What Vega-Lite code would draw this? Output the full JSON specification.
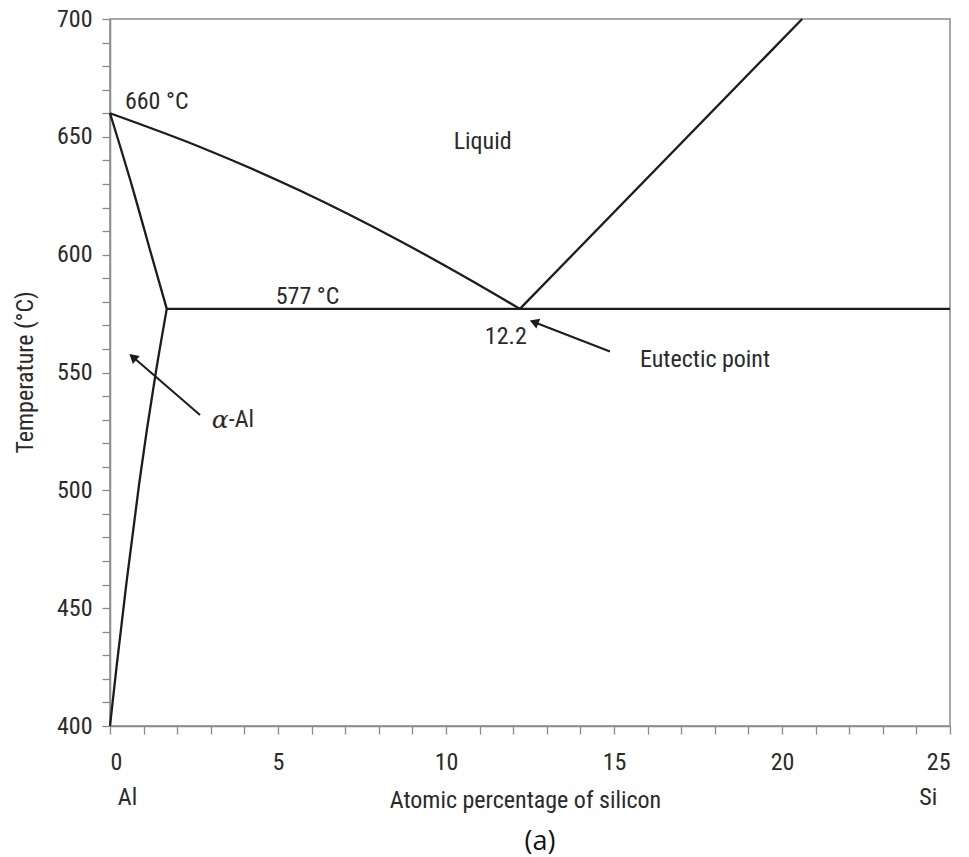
{
  "$schema": "https://vega.github.io/schema/vega-lite/v6.json",
  "autosize": {"type": "none"},
  "padding": {"left": 110, "top": 19, "right": 19, "bottom": 131},
  "width": 840,
  "height": 707,
  "background": "white",
  "config": {
    "view": {"stroke": "#8a8a8a", "strokeWidth": 1.5},
    "font": "Roboto Condensed, Roboto, sans-serif",
    "axis": {
      "domainColor": "#8a8a8a",
      "domainWidth": 1.5,
      "tickColor": "#8a8a8a",
      "tickWidth": 1.3,
      "tickSize": 8,
      "grid": false,
      "labelOverlap": false,
      "labelFont": "Roboto Condensed, Roboto, sans-serif",
      "labelFontSize": 24,
      "labelColor": "#2a2a2a",
      "titleFont": "Roboto Condensed, Roboto, sans-serif",
      "titleFontSize": 24,
      "titleFontWeight": "normal",
      "titleColor": "#2a2a2a"
    }
  },
  "datasets": {
    "curves": [
      {"series": "liquidus_al", "x": 0, "t": 660},
      {"series": "liquidus_al", "x": 2.68, "t": 645.7},
      {"series": "liquidus_al", "x": 5.65, "t": 627.2},
      {"series": "liquidus_al", "x": 8.63, "t": 605.8},
      {"series": "liquidus_al", "x": 10.62, "t": 590.1},
      {"series": "liquidus_al", "x": 12.2, "t": 577},
      {"series": "liquidus_si", "x": 12.2, "t": 577},
      {"series": "liquidus_si", "x": 20.6, "t": 700},
      {"series": "solidus", "x": 0, "t": 660},
      {"series": "solidus", "x": 0.69, "t": 627.4},
      {"series": "solidus", "x": 1.19, "t": 602},
      {"series": "solidus", "x": 1.69, "t": 577},
      {"series": "solvus", "x": 0, "t": 400},
      {"series": "solvus", "x": 0.196, "t": 425.2},
      {"series": "solvus", "x": 0.489, "t": 460.6},
      {"series": "solvus", "x": 0.87, "t": 503},
      {"series": "solvus", "x": 1.36, "t": 549.7},
      {"series": "solvus", "x": 1.69, "t": 577},
      {"series": "eutectic", "x": 1.69, "t": 577},
      {"series": "eutectic", "x": 25, "t": 577}
    ],
    "arrows": [
      {"series": "alpha", "x": 2.68, "t": 532},
      {"series": "alpha", "x": 0.7, "t": 556.4},
      {"series": "eut", "x": 14.88, "t": 558.9},
      {"series": "eut", "x": 12.65, "t": 571.2}
    ],
    "heads_alpha": [{"x": 0.68, "t": 556.6}],
    "heads_eut": [{"x": 12.62, "t": 571.4}],
    "labels": [
      {"text": "660 °C", "x": 1.39, "t": 664.9},
      {"text": "577 °C", "x": 5.88, "t": 582.2},
      {"text": "Liquid", "x": 11.09, "t": 647.9},
      {"text": "12.2", "x": 11.78, "t": 565.2},
      {"text": "Eutectic point", "x": 17.71, "t": 555.3},
      {"text": "Al", "x": 0.52, "t": 369.5},
      {"text": "Si", "x": 24.35, "t": 369.5}
    ],
    "alpha_label": [
      {"greek": "α", "rest": "-Al", "x": 3.03, "t": 529.9}
    ],
    "caption": [{"text": "(a)", "x": 12.8, "t": 350.9}]
  },
  "layer": [
    {
      "data": {"name": "curves"},
      "mark": {"type": "line", "color": "#1c1c1c", "strokeWidth": 2.3, "interpolate": "monotone"},
      "encoding": {
        "x": {
          "field": "x", "type": "quantitative",
          "scale": {"domain": [0, 25], "nice": false, "zero": false},
          "axis": {
            "title": "Atomic percentage of silicon",
            "values": [0,1,2,3,4,5,6,7,8,9,10,11,12,13,14,15,16,17,18,19,20,21,22,23,24,25],
            "tickCount": 100,
            "format": "d",
            "labelExpr": "datum.value % 5 === 0 ? datum.label : ''",
            "labelPadding": 16,
            "titleX": 415,
            "titleY": 74,
            "titleBaseline": "middle"
          }
        },
        "y": {
          "field": "t", "type": "quantitative",
          "scale": {"domain": [400, 700], "nice": false, "zero": false},
          "axis": {
            "title": "Temperature (°C)",
            "values": [400,410,420,430,440,450,460,470,480,490,500,510,520,530,540,550,560,570,580,590,600,610,620,630,640,650,660,670,680,690,700],
            "tickCount": 100,
            "format": "d",
            "labelExpr": "datum.value % 50 === 0 ? datum.label : ''",
            "labelPadding": 10,
            "titleX": -85,
            "titleY": 353,
            "titleBaseline": "middle"
          }
        },
        "detail": {"field": "series"}
      }
    },
    {
      "data": {"name": "arrows"},
      "mark": {"type": "line", "color": "#1c1c1c", "strokeWidth": 2},
      "encoding": {
        "x": {"field": "x", "type": "quantitative"},
        "y": {"field": "t", "type": "quantitative"},
        "detail": {"field": "series"}
      }
    },
    {
      "data": {"name": "heads_alpha"},
      "mark": {"type": "point", "shape": "triangle-up", "filled": true, "color": "#1c1c1c", "size": 110, "angle": 310.7, "opacity": 1},
      "encoding": {
        "x": {"field": "x", "type": "quantitative"},
        "y": {"field": "t", "type": "quantitative"}
      }
    },
    {
      "data": {"name": "heads_eut"},
      "mark": {"type": "point", "shape": "triangle-up", "filled": true, "color": "#1c1c1c", "size": 110, "angle": 291.2, "opacity": 1},
      "encoding": {
        "x": {"field": "x", "type": "quantitative"},
        "y": {"field": "t", "type": "quantitative"}
      }
    },
    {
      "data": {"name": "labels"},
      "mark": {"type": "text", "fontSize": 24, "font": "Roboto Condensed, Roboto, sans-serif", "color": "#2a2a2a", "align": "center", "baseline": "middle"},
      "encoding": {
        "x": {"field": "x", "type": "quantitative"},
        "y": {"field": "t", "type": "quantitative"},
        "text": {"field": "text"}
      }
    },
    {
      "data": {"name": "alpha_label"},
      "mark": {"type": "text", "fontSize": 25, "font": "DejaVu Serif", "fontStyle": "italic", "color": "#2a2a2a", "align": "left", "baseline": "middle"},
      "encoding": {
        "x": {"field": "x", "type": "quantitative"},
        "y": {"field": "t", "type": "quantitative"},
        "text": {"field": "greek"}
      }
    },
    {
      "data": {"name": "alpha_label"},
      "mark": {"type": "text", "fontSize": 24, "font": "Roboto Condensed, Roboto, sans-serif", "color": "#2a2a2a", "align": "left", "baseline": "middle", "dx": 17},
      "encoding": {
        "x": {"field": "x", "type": "quantitative"},
        "y": {"field": "t", "type": "quantitative"},
        "text": {"field": "rest"}
      }
    },
    {
      "data": {"name": "caption"},
      "mark": {"type": "text", "fontSize": 27, "font": "Open Sans", "color": "#111111", "align": "center", "baseline": "middle"},
      "encoding": {
        "x": {"field": "x", "type": "quantitative"},
        "y": {"field": "t", "type": "quantitative"},
        "text": {"field": "text"}
      }
    }
  ]
}
